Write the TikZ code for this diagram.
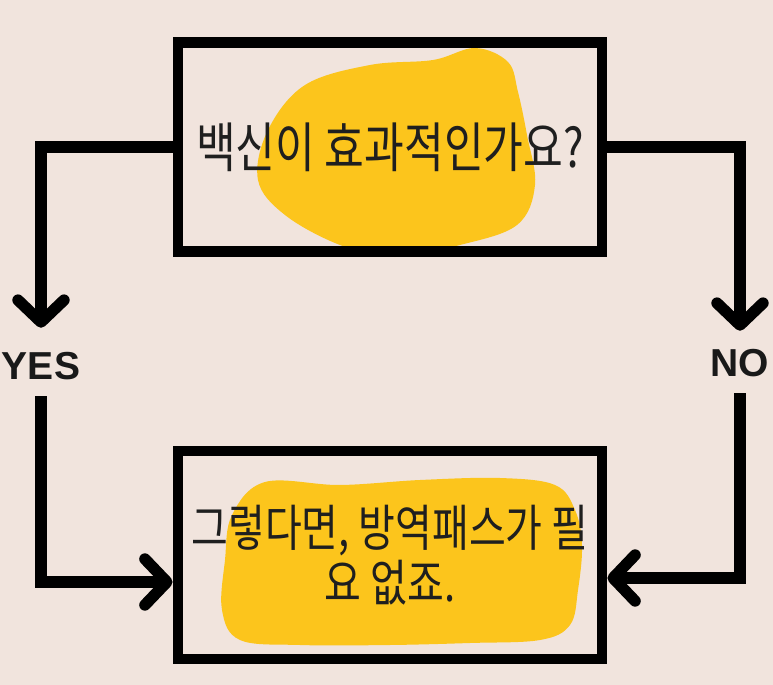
\documentclass[tikz,border=0pt]{standalone}
\usepackage{fontspec}
\usepackage{tikz}
\usetikzlibrary{arrows.meta}
\newfontfamily\kofont{Noto Sans CJK KR}[FakeStretch=0.8]
\newfontfamily\lblfont{Liberation Sans}
\definecolor{bgpink}{HTML}{F1E4DD}
\definecolor{marker}{HTML}{FCC51C}
\tikzset{
	box/.style={draw=black, line width=1.9mm, minimum width=212pt, inner sep=0pt,
		font=\kofont\fontsize{25}{27.5}\selectfont, text=black!88, align=center},
	answer/.style={font=\lblfont\bfseries\fontsize{19.5}{20}\selectfont, text=black!90, inner sep=0pt},
	link/.style={draw=black, line width=2mm, line join=miter,
		-{Straight Barb[length=11pt, width=23pt, round]}},
}

\begin{document}
\begin{tikzpicture}[x=0.5pt, y=-0.5pt]
			%%%%% START %%%%%
			
			\fill[bgpink] (0, 0) rectangle (773, 685);
			
			% yellow marker behind the question
			\fill[marker] plot[smooth cycle, tension=0.6] coordinates {(433, 60) (475, 48) (508, 62) (518, 92) (527, 135) (535, 185) (517, 225) (460, 245) (395, 257) (340, 245) (285, 215) (258, 180) (268, 130) (305, 85) (370, 65)};
			
			% yellow marker behind the answer
			\fill[marker] plot[smooth cycle, tension=0.6] coordinates {(265, 482) (340, 485) (420, 480) (500, 478) (555, 485) (575, 510) (582, 545) (578, 590) (570, 625) (540, 640) (470, 643) (390, 645) (300, 645) (240, 640) (222, 610) (225, 560) (232, 515)};
			
			\node[box, minimum height=104.5pt] (q) at (390, 147) {\fontsize{27}{30}\selectfont\raisebox{-4pt}{백신이 효과적인가요?}};
			\node[box, minimum height=104pt] (a) at (390, 555) {그렇다면, 방역패스가 필\\요 없죠.};
			
			\node[answer] (yes) at (41, 366) {YES};
			\node[answer] (no) at (740, 363) {NO};
			
			\draw[link] (q.west) -| ([yshift=12pt]yes.north);
			\draw[link] ([yshift=-8pt]yes.south) |- ([yshift=-13.5pt]a.west);
			
			\draw[link] (q.east) -| ([yshift=9pt]no.north);
			\draw[link] ([yshift=-8pt]no.south) |- ([yshift=-11.5pt]a.east);
			
			%%%%% END %%%%%
\end{tikzpicture}
\end{document}
